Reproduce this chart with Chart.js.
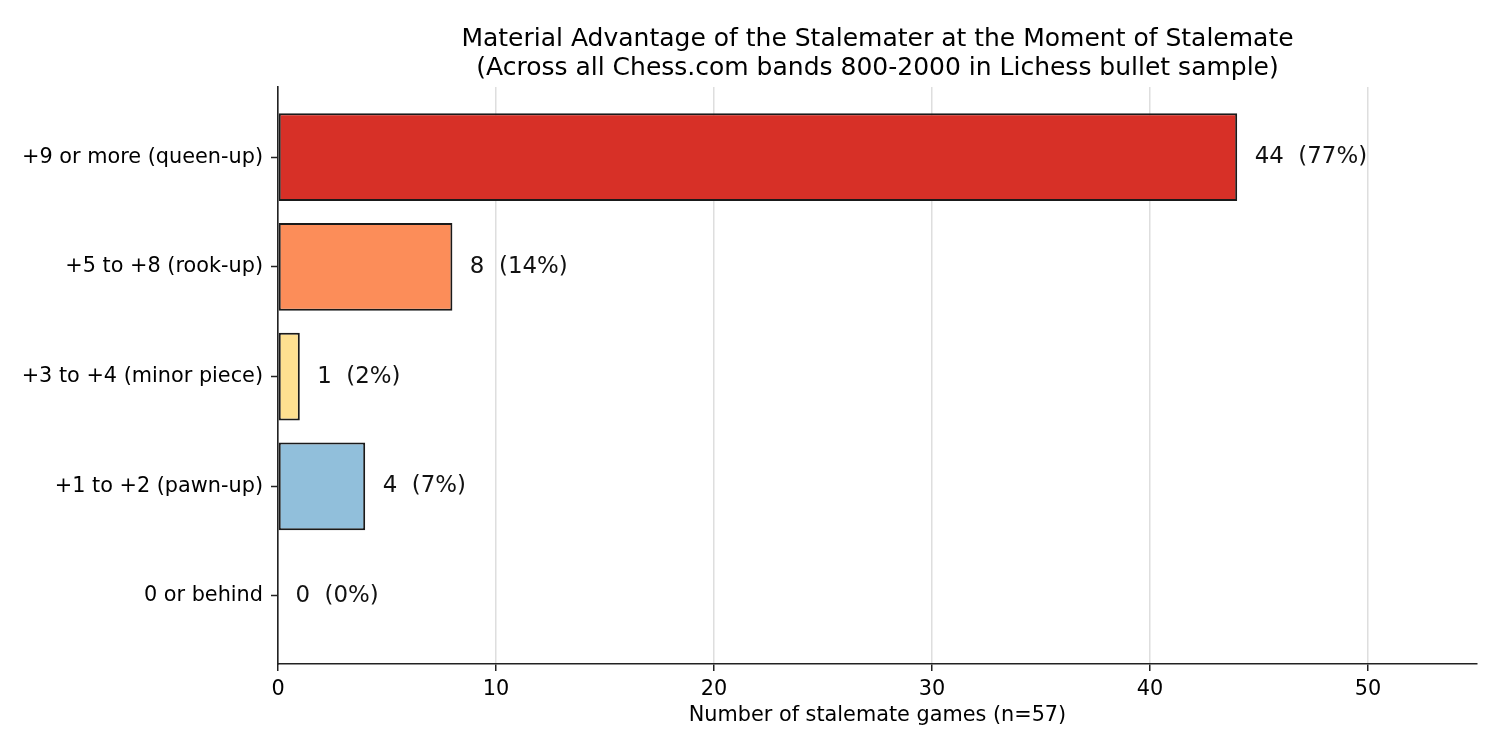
<!DOCTYPE html>
<html>
<head>
<meta charset="utf-8">
<script src="https://cdn.jsdelivr.net/npm/chart.js@4"></script>
<style>
  html, body { margin: 0; padding: 0; background: #ffffff; }
  #wrap { width: 1500px; height: 750px; position: relative; }
</style>
</head>
<body>
<div id="wrap"><canvas id="c"></canvas></div>
<script>
// ---- data ----
const categories = ['+9 or more (queen-up)', '+5 to +8 (rook-up)', '+3 to +4 (minor piece)', '+1 to +2 (pawn-up)', '0 or behind'];
const counts = [44, 8, 1, 4, 0];
const barColors = ['#d73027', '#fc8d59', '#fee090', '#91bfdb', '#4575b4'];
const totalGames = 57;
const xTickValues = [0, 10, 20, 30, 40, 50];
const titleLines = ['Material Advantage of the Stalemater at the Moment of Stalemate',
                    '(Across all Chess.com bands 800-2000 in Lichess bullet sample)'];
const xAxisTitle = 'Number of stalemate games (n=57)';

const FONT = '"DejaVu Sans", sans-serif';

const textPlugin = {
  id: 'textPlugin',
  afterDatasetsDraw(chart) {
    const ctx = chart.ctx;
    const xs = chart.scales.x;
    const meta = chart.getDatasetMeta(0);
    ctx.save();
    ctx.font = '22.9px ' + FONT;
    ctx.fillStyle = '#111';
    ctx.textAlign = 'left';
    ctx.textBaseline = 'middle';
    meta.data.forEach((el, i) => {
      const v = counts[i];
      const pct = Math.round(v / totalGames * 100);
      ctx.fillText(v + '  (' + pct + '%)', xs.getPixelForValue(v + 0.8), el.y);
    });
    ctx.restore();
  },
  afterDraw(chart) {
    const ctx = chart.ctx;
    const ca = chart.chartArea;
    const cx = (ca.left + ca.right) / 2;
    ctx.save();
    ctx.fillStyle = '#000';
    ctx.textAlign = 'center';
    ctx.textBaseline = 'middle';
    ctx.font = '25px ' + FONT;
    ctx.fillText(titleLines[0], cx, 39);
    ctx.fillText(titleLines[1], cx, 68);
    ctx.font = '20.8px ' + FONT;
    ctx.fillText(xAxisTitle, cx, 716);
    ctx.restore();
  }
};

new Chart(document.getElementById('c'), {
  type: 'bar',
  data: {
    datasets: [{
      data: counts.map((v, i) => ({ x: v, y: i })),
      backgroundColor: barColors,
      borderColor: '#1a1a1a',
      borderWidth: 2,
      borderSkipped: false,
      categoryPercentage: 1.0,
      barPercentage: 0.8
    }]
  },
  options: {
    indexAxis: 'y',
    responsive: true,
    maintainAspectRatio: false,
    animation: false,
    events: [],
    layout: { padding: { left: 0, top: 87, right: 23, bottom: 0 } },
    plugins: { legend: { display: false }, tooltip: { enabled: false }, title: { display: false } },
    scales: {
      x: {
        type: 'linear',
        position: 'bottom',
        min: 0,
        max: 55,
        afterFit(scale) { scale.height = 86; },
        afterBuildTicks(scale) { scale.ticks = xTickValues.map(v => ({ value: v })); },
        ticks: { font: { family: FONT, size: 20.8 }, color: '#000', padding: 6, maxRotation: 0 },
        grid: { color: '#dedede', lineWidth: 1.5, drawTicks: true, tickLength: 7, tickColor: '#222', tickWidth: 1.5 },
        border: { display: true, color: '#222', width: 1.6 }
      },
      y: {
        type: 'linear',
        position: 'left',
        reverse: true,
        offset: false,
        min: -0.64,
        max: 4.62,
        afterFit(scale) { scale.width = 278; },
        afterBuildTicks(scale) { scale.ticks = categories.map((c, i) => ({ value: i })); },
        ticks: {
          font: { family: FONT, size: 20.8 }, color: '#000', padding: 8,
          callback: (v) => categories[v]
        },
        grid: { offset: false, drawOnChartArea: false, drawTicks: true, tickLength: 7, color: '#222', tickColor: '#222', tickWidth: 1.5 },
        border: { display: true, color: '#222', width: 1.6 }
      }
    }
  },
  plugins: [textPlugin]
});
</script>
</body>
</html>
